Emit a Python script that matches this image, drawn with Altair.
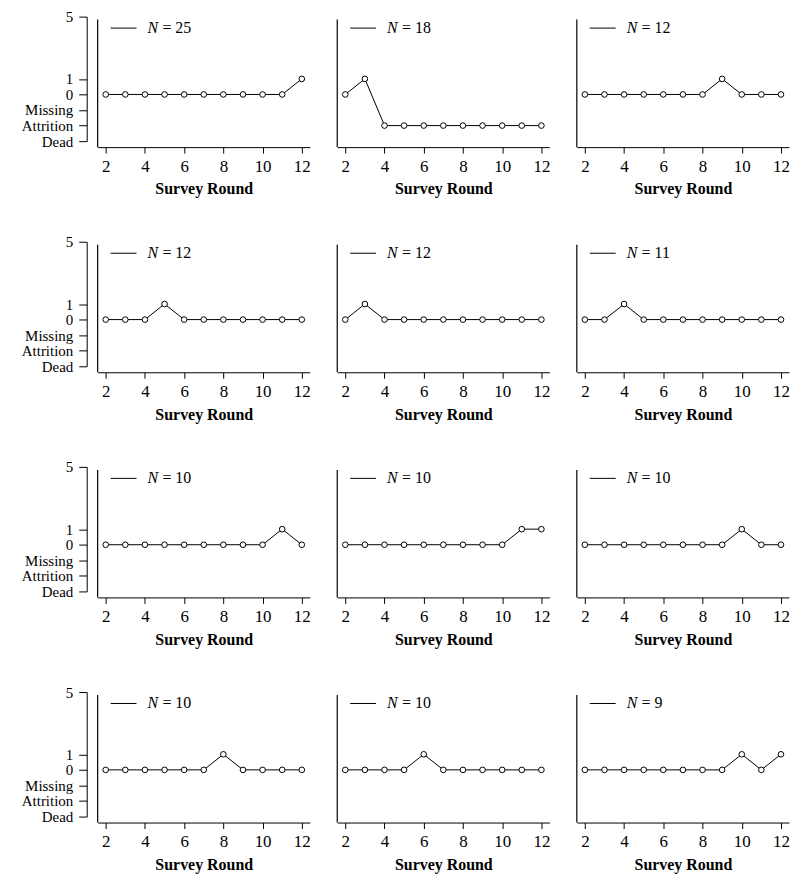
import altair as alt
import pandas as pd

# ---- data ----
rounds = [2, 3, 4, 5, 6, 7, 8, 9, 10, 11, 12]
panel_n = [25, 18, 12, 12, 12, 11, 10, 10, 10, 10, 10, 9]
# codes: 1, 0, -1 = Missing, -2 = Attrition, -3 = Dead
series_0 = [0, 0, 0, 0, 0, 0, 0, 0, 0, 0, 1]
series_1 = [0, 1, -2, -2, -2, -2, -2, -2, -2, -2, -2]
series_2 = [0, 0, 0, 0, 0, 0, 0, 1, 0, 0, 0]
series_3 = [0, 0, 0, 1, 0, 0, 0, 0, 0, 0, 0]
series_4 = [0, 1, 0, 0, 0, 0, 0, 0, 0, 0, 0]
series_5 = [0, 0, 1, 0, 0, 0, 0, 0, 0, 0, 0]
series_6 = [0, 0, 0, 0, 0, 0, 0, 0, 0, 1, 0]
series_7 = [0, 0, 0, 0, 0, 0, 0, 0, 0, 1, 1]
series_8 = [0, 0, 0, 0, 0, 0, 0, 0, 1, 0, 0]
series_9 = [0, 0, 0, 0, 0, 0, 1, 0, 0, 0, 0]
series_10 = [0, 0, 0, 0, 1, 0, 0, 0, 0, 0, 0]
series_11 = [0, 0, 0, 0, 0, 0, 0, 0, 1, 0, 1]
all_series = [series_0, series_1, series_2, series_3, series_4, series_5,
              series_6, series_7, series_8, series_9, series_10, series_11]

y_tick_values = [5, 1, 0, -1, -2, -3]
y_tick_labels = ["5", "1", "0", "Missing", "Attrition", "Dead"]
x_tick_values = [2, 4, 6, 8, 10, 12]

FONT = "Liberation Serif"
W, H = 213, 125
label_expr = " : ".join(
    f"datum.value == {v} ? '{l}'" for v, l in zip(y_tick_values, y_tick_labels)
) + " : ''"

x_scale = alt.Scale(domain=[1.59, 12.41], nice=False, zero=False)
y_scale = alt.Scale(domain=[-3, 5], nice=False, zero=False)


def panel(i):
    df = pd.DataFrame({"round": rounds, "value": all_series[i]})
    one = pd.DataFrame({"n": [panel_n[i]]})
    show_y = (i % 3 == 0)
    if show_y:
        yaxis = alt.Axis(values=y_tick_values, labelExpr=label_expr, offset=11,
                         tickSize=8, labelPadding=6, labelOverlap=False,
                         labelFont=FONT, labelFontSize=15, labelColor="black",
                         domainColor="black", tickColor="black", title=None,
                         grid=False)
    else:
        yaxis = None
    xaxis = alt.Axis(values=x_tick_values, offset=6, tickSize=6, labelPadding=5,
                     labelFont=FONT, labelFontSize=17, labelColor="black",
                     domainColor="black", tickColor="black",
                     title="Survey Round", titleFont=FONT, titleFontSize=16,
                     titleFontWeight="bold", titleColor="black", titlePadding=7,
                     grid=False, labelFlush=False, format="d")
    base = alt.Chart(df).encode(
        x=alt.X("round:Q", scale=x_scale, axis=xaxis),
        y=alt.Y("value:Q", scale=y_scale, axis=yaxis),
    )
    line = base.mark_line(color="black", strokeWidth=1)
    pts = base.mark_point(shape="circle", size=32, filled=True, fill="white",
                          stroke="black", strokeWidth=1, opacity=1)
    frame = alt.Chart(one).mark_rule(color="black", strokeWidth=1.2).encode(
        x=alt.value(0), y=alt.value(3), y2=alt.value(H + 6))
    leg_line = alt.Chart(one).mark_rule(color="black", strokeWidth=1).encode(
        x=alt.value(13), x2=alt.value(39), y=alt.value(11.5))
    leg_n = alt.Chart(one).mark_text(text="N", font=FONT, fontSize=16,
                                     fontStyle="italic", align="left",
                                     baseline="alphabetic", color="black").encode(
        x=alt.value(50), y=alt.value(16))
    leg_v = alt.Chart(one).mark_text(font=FONT, fontSize=16, align="left",
                                     baseline="alphabetic", color="black").encode(
        x=alt.value(65), y=alt.value(16),
        text=alt.Text("label:N")).transform_calculate(label="'= ' + datum.n")
    return alt.layer(frame, line, pts, leg_line, leg_n, leg_v).properties(
        width=W, height=H)


chart = alt.concat(*[panel(i) for i in range(12)], columns=3,
                   spacing={"row": 101, "column": 27.5}, bounds="flush").properties(
    padding={"left": 13, "top": 0, "right": 2, "bottom": 2}
).configure_view(stroke=None)

chart.save("out.html", embed_options={"renderer": "svg", "actions": False})
